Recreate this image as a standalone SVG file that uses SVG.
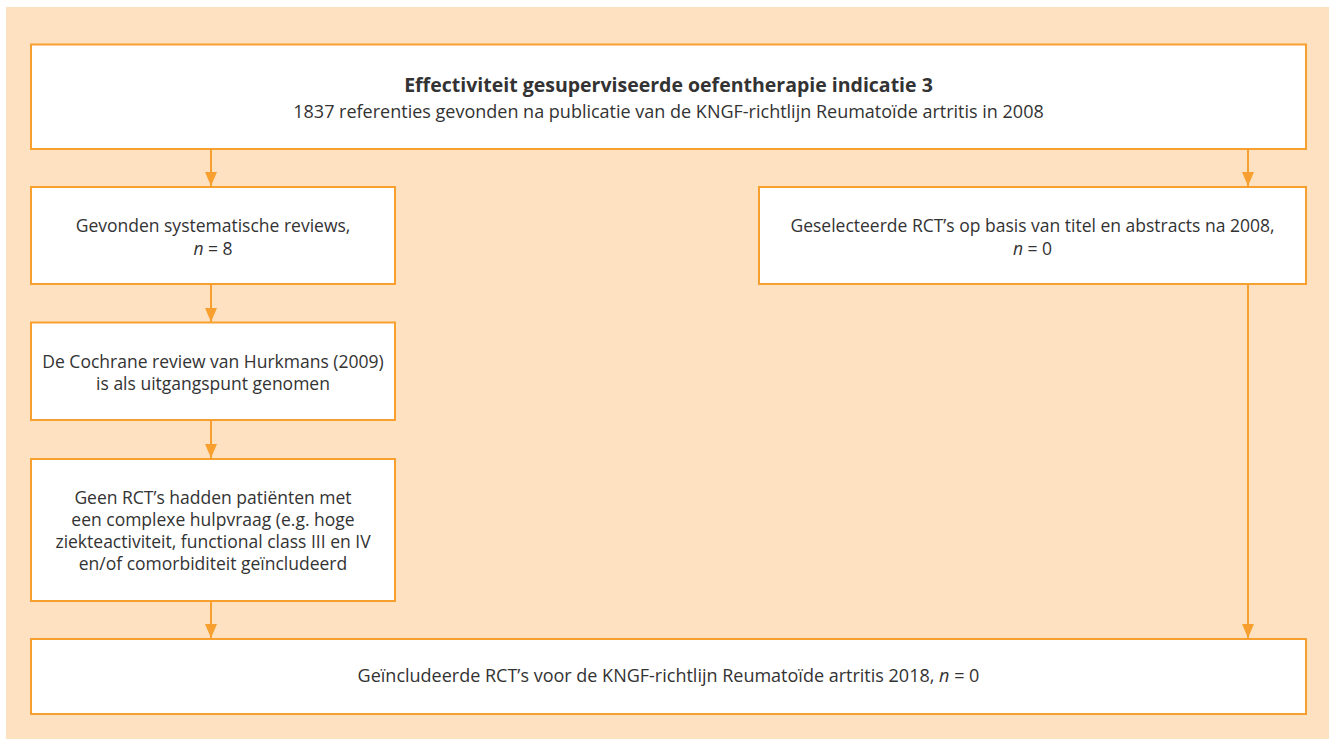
<svg xmlns="http://www.w3.org/2000/svg" width="1332" height="746" viewBox="0 0 1332 746">
<defs>
<style>
.bg{fill:#fde1c0}
.box{fill:#ffffff;stroke:#f7a02f;stroke-width:2}
.t{font-family:"Open Sans","Noto Sans",sans-serif;font-size:17.5px;fill:#333333;text-anchor:middle}
.w{font-size:18px}
.b{font-weight:bold;font-size:19.5px}
.conn{stroke:#f7a02f;stroke-width:2;fill:none}
</style>
<marker id="ahd" viewBox="0 0 12 14" refX="6" refY="14" markerWidth="12" markerHeight="14" markerUnits="userSpaceOnUse">
<path d="M0,0 L12,0 L6,14 Z" fill="#f7a02f"/>
</marker>
</defs>
<rect class="bg" x="6" y="7" width="1323" height="732"/>
<g id="connectors">
<line class="conn" x1="211" y1="149" x2="211" y2="186" marker-end="url(#ahd)"/>
<line class="conn" x1="1248" y1="149" x2="1248" y2="186" marker-end="url(#ahd)"/>
<line class="conn" x1="211" y1="284" x2="211" y2="322" marker-end="url(#ahd)"/>
<line class="conn" x1="211" y1="420" x2="211" y2="458" marker-end="url(#ahd)"/>
<line class="conn" x1="211" y1="601" x2="211" y2="638" marker-end="url(#ahd)"/>
<line class="conn" x1="1248" y1="284" x2="1248" y2="638" marker-end="url(#ahd)"/>
</g>
<g id="node-top">
<rect class="box" x="31" y="44.5" width="1275" height="104.5"/>
<text class="t b" x="668.5" y="92">Effectiviteit gesuperviseerde oefentherapie indicatie 3</text>
<text class="t w" x="668.5" y="118">1837 referenties gevonden na publicatie van de KNGF-richtlijn Reumatoïde artritis in 2008</text>
</g>
<g id="node-reviews">
<rect class="box" x="31" y="187" width="364" height="97"/>
<text class="t" x="213" y="232">Gevonden systematische reviews,</text>
<text class="t" x="213" y="255"><tspan font-style="italic">n</tspan> = 8</text>
</g>
<g id="node-rcts-selected">
<rect class="box" x="759" y="187" width="547" height="97"/>
<text class="t" x="1032.5" y="232">Geselecteerde RCT’s op basis van titel en abstracts na 2008,</text>
<text class="t" x="1032.5" y="255"><tspan font-style="italic">n</tspan> = 0</text>
</g>
<g id="node-cochrane">
<rect class="box" x="31" y="322.5" width="364" height="97.5"/>
<text class="t" x="213" y="368">De Cochrane review van Hurkmans (2009)</text>
<text class="t" x="213" y="390">is als uitgangspunt genomen</text>
</g>
<g id="node-geen">
<rect class="box" x="31" y="459" width="364" height="142"/>
<text class="t" x="213" y="504">Geen RCT’s hadden patiënten met</text>
<text class="t" x="213" y="526">een complexe hulpvraag (e.g. hoge</text>
<text class="t" x="213" y="548">ziekteactiviteit, functional class III en IV</text>
<text class="t" x="213" y="570">en/of comorbiditeit geïncludeerd</text>
</g>
<g id="node-included">
<rect class="box" x="31" y="639" width="1275" height="75"/>
<text class="t w" x="668.5" y="682">Geïncludeerde RCT’s voor de KNGF-richtlijn Reumatoïde artritis 2018, <tspan font-style="italic">n</tspan> = 0</text>
</g>
</svg>
